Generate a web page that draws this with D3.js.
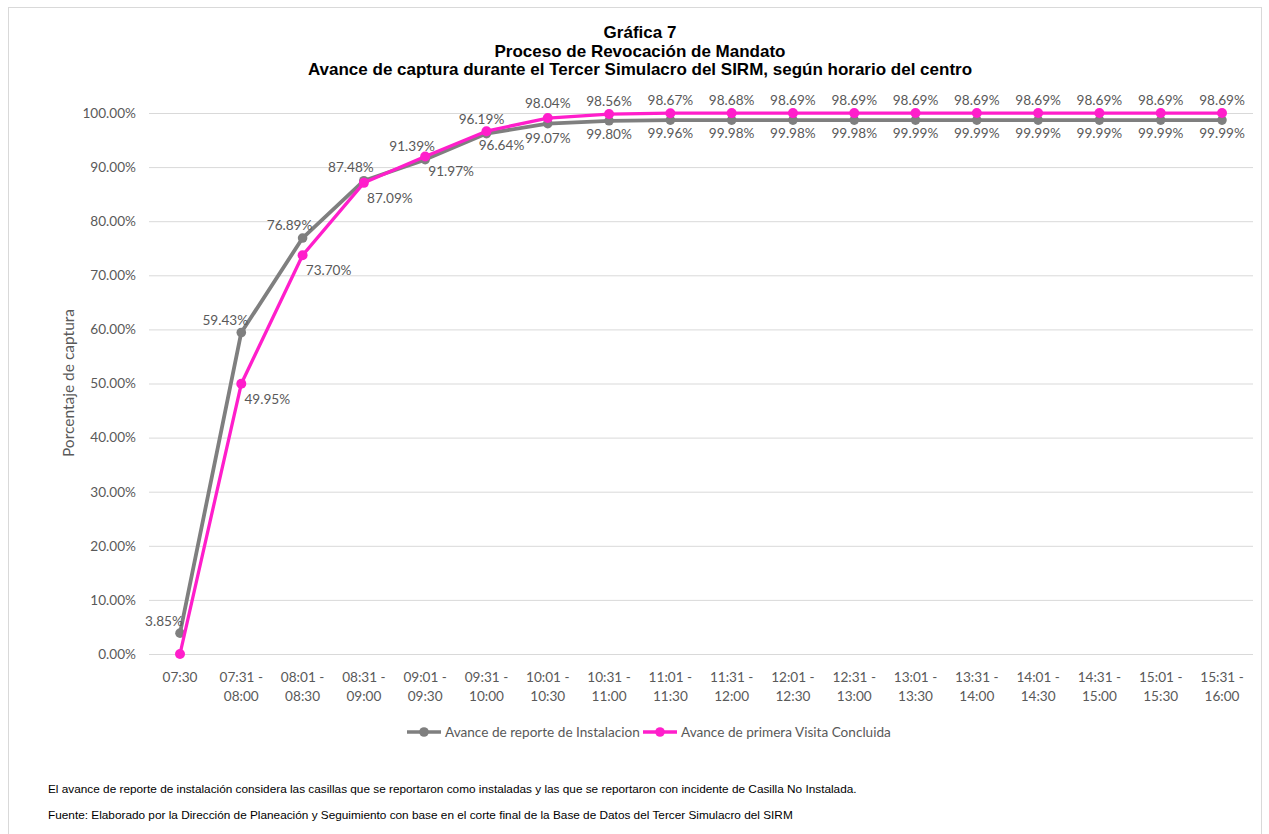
<!DOCTYPE html>
<html>
<head>
<meta charset="utf-8">
<script src="https://cdn.jsdelivr.net/npm/d3@7"></script>
<style>
  body { margin: 0; background: #fff; }
  svg { display: block; }
</style>
</head>
<body>
<svg id="chart"></svg>
<script>
var categories = ["07:30", "07:31 - 08:00", "08:01 - 08:30", "08:31 - 09:00", "09:01 - 09:30",
                  "09:31 - 10:00", "10:01 - 10:30", "10:31 - 11:00", "11:01 - 11:30", "11:31 - 12:00",
                  "12:01 - 12:30", "12:31 - 13:00", "13:01 - 13:30", "13:31 - 14:00", "14:01 - 14:30",
                  "14:31 - 15:00", "15:01 - 15:30", "15:31 - 16:00"];

var instalacion = [3.85, 59.43, 76.89, 87.48, 91.39, 96.19, 98.04, 98.56, 98.67, 98.68,
                   98.69, 98.69, 98.69, 98.69, 98.69, 98.69, 98.69, 98.69];

var visita = [0.00, 49.95, 73.70, 87.09, 91.97, 96.64, 99.07, 99.80, 99.96, 99.98,
              99.98, 99.98, 99.99, 99.99, 99.99, 99.99, 99.99, 99.99];

var yTicks = [0, 10, 20, 30, 40, 50, 60, 70, 80, 90, 100];

var titles = ["Gráfica 7",
              "Proceso de Revocación de Mandato",
              "Avance de captura durante el Tercer Simulacro del SIRM, según horario del centro"];

var notes = ["El avance de reporte de instalación considera las casillas que se reportaron como instaladas y las que se reportaron con incidente de Casilla No Instalada.",
             "Fuente: Elaborado por la Dirección de Planeación y Seguimiento con base en el corte final de la Base de Datos del Tercer Simulacro del SIRM"];

var width = 1269, height = 834;
var gray = "#7f7f7f", pink = "#ff1ecb", textColor = "#595959";
var labelFont = "Lato, 'Open Sans', sans-serif";
var labelSize = "13.6px";

var svg = d3.select("#chart")
            .attr("width", width)
            .attr("height", height);

// outer frame
svg.append("rect")
   .attr("x", 8.5).attr("y", 7.5)
   .attr("width", 1253).attr("height", 840)
   .attr("fill", "none")
   .attr("stroke", "#d9d9d9");

// titles
svg.selectAll(".title")
   .data(titles)
   .enter().append("text")
   .attr("x", 640)
   .attr("y", (d, i) => 38 + i * 18.5)
   .attr("text-anchor", "middle")
   .attr("font-family", "'Liberation Sans', Arial, sans-serif")
   .attr("font-weight", "bold")
   .attr("font-size", "17px")
   .attr("fill", "#000")
   .text(d => d);

var x = d3.scalePoint()
          .domain(categories)
          .range([180, 1222]);

var y = d3.scaleLinear()
          .domain([0, 100])
          .range([654, 113]);

// grid + y labels
var yAxis = d3.axisLeft(y)
              .tickValues(yTicks)
              .tickSize(-(1253 - 149))
              .tickPadding(13)
              .tickFormat(d => d.toFixed(2) + "%");

var gy = svg.append("g")
            .attr("transform", "translate(149,0)")
            .call(yAxis);
gy.select(".domain").remove();
gy.selectAll(".tick line").attr("stroke", "#d9d9d9").attr("stroke-width", 1);
gy.selectAll(".tick text")
  .attr("fill", textColor)
  .attr("font-family", labelFont)
  .attr("font-size", labelSize);

// x labels (two lines)
var gx = svg.append("g");
gx.selectAll("text")
  .data(categories)
  .enter().append("text")
  .attr("x", d => x(d))
  .attr("y", 682)
  .attr("text-anchor", "middle")
  .attr("fill", textColor)
  .attr("font-family", labelFont)
  .attr("font-size", labelSize)
  .each(function(d) {
      var parts = d.split(" - ");
      var t = d3.select(this);
      t.append("tspan").attr("x", x(d)).attr("dy", 0).text(parts.length > 1 ? parts[0] + " -" : parts[0]);
      if (parts.length > 1) {
          t.append("tspan").attr("x", x(d)).attr("dy", 19).text(parts[1]);
      }
  });

// y axis title
svg.append("text")
   .attr("transform", "translate(74,383) rotate(-90)")
   .attr("text-anchor", "middle")
   .attr("fill", textColor)
   .attr("font-family", labelFont)
   .attr("font-size", "15.5px")
   .text("Porcentaje de captura");

var line = d3.line()
             .x((d, i) => x(categories[i]))
             .y(d => y(d));

function drawSeries(values, color, lw, r) {
    svg.append("path")
       .datum(values)
       .attr("fill", "none")
       .attr("stroke", color)
       .attr("stroke-width", lw)
       .attr("stroke-linejoin", "round")
       .attr("d", line);

    svg.append("g")
       .selectAll("circle")
       .data(values)
       .enter().append("circle")
       .attr("cx", (d, i) => x(categories[i]))
       .attr("cy", d => y(d))
       .attr("r", r)
       .attr("fill", color);
}

drawSeries(instalacion, gray, 3.8, 4.8);
drawSeries(visita, pink, 3.3, 5);

// data labels: instalacion above (left on steep part), visita below (right on steep part)
function grayOffset(i) {
    if (i < 2) return [-16, -12];
    if (i < 5) return [-13, -13];
    if (i === 5) return [-5, -14];
    return [0, -20];
}
function pinkOffset(i) {
    if (i < 5) return [26, 15];
    if (i === 5) return [15, 14];
    return [0, 20];
}

svg.append("g")
   .selectAll("text")
   .data(instalacion)
   .enter().append("text")
   .attr("x", (d, i) => x(categories[i]) + grayOffset(i)[0])
   .attr("y", (d, i) => y(d) + grayOffset(i)[1])
   .attr("dy", "0.35em")
   .attr("text-anchor", "middle")
   .attr("fill", textColor)
   .attr("font-family", labelFont)
   .attr("font-size", labelSize)
   .text(d => d.toFixed(2) + "%");

svg.append("g")
   .selectAll("text")
   .data(visita)
   .enter().append("text")
   .filter((d, i) => i > 0)
   .attr("x", (d, i) => x(categories[i + 1]) + pinkOffset(i + 1)[0])
   .attr("y", (d, i) => y(d) + pinkOffset(i + 1)[1])
   .attr("dy", "0.35em")
   .attr("text-anchor", "middle")
   .attr("fill", textColor)
   .attr("font-family", labelFont)
   .attr("font-size", labelSize)
   .text(d => d.toFixed(2) + "%");

// legend
var legendItems = [
    { name: "Avance de reporte de Instalacion", color: gray, x: 407 },
    { name: "Avance de primera Visita Concluida", color: pink, x: 643 }
];
var lg = svg.append("g").selectAll("g")
            .data(legendItems)
            .enter().append("g")
            .attr("transform", d => "translate(" + d.x + ",732)");
lg.append("line")
  .attr("x1", 0).attr("x2", 34)
  .attr("stroke", d => d.color)
  .attr("stroke-width", 3.5);
lg.append("circle")
  .attr("cx", 17).attr("r", 4.8)
  .attr("fill", d => d.color);
lg.append("text")
  .attr("x", 38)
  .attr("dy", "0.35em")
  .attr("fill", textColor)
  .attr("font-family", labelFont)
  .attr("font-size", labelSize)
  .text(d => d.name);

// footnotes
svg.selectAll(".note")
   .data(notes)
   .enter().append("text")
   .attr("x", 48)
   .attr("y", (d, i) => 793 + i * 26)
   .attr("fill", "#000")
   .attr("font-family", "'Liberation Sans', Arial, sans-serif")
   .attr("font-size", "11.8px")
   .text(d => d);
</script>
</body>
</html>
